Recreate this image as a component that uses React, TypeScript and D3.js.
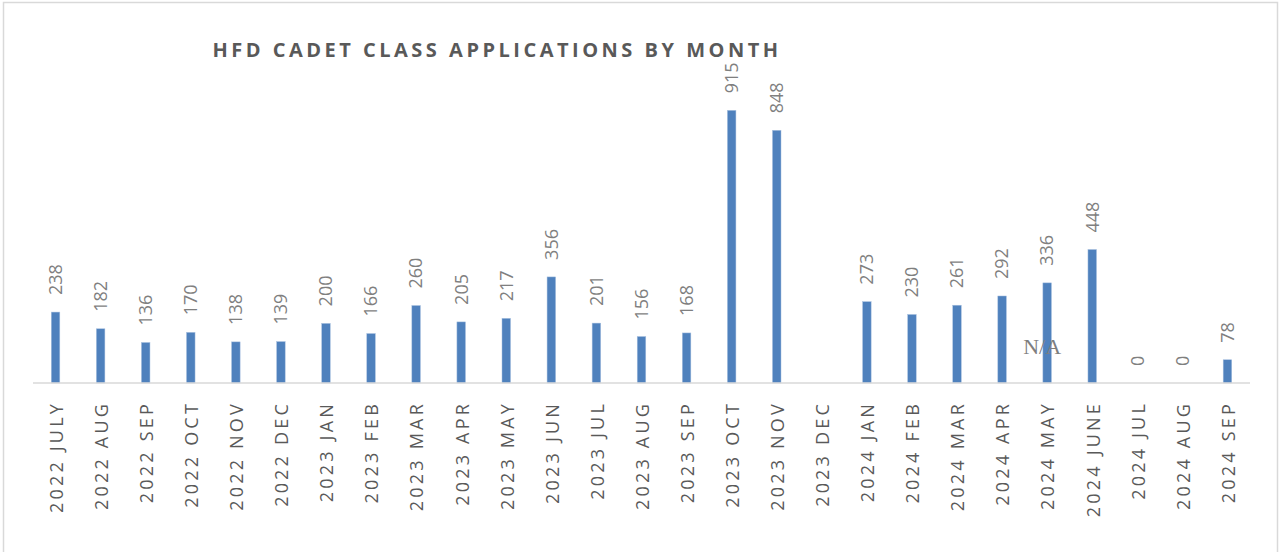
import * as d3 from "d3";

const WIDTH = 1281;
const HEIGHT = 552;
const PLOT = { left: 33, right: 1250, top: 85, bottom: 383 };

const months = [
  "2022 JULY", "2022 AUG", "2022 SEP", "2022 OCT", "2022 NOV", "2022 DEC",
  "2023 JAN", "2023 FEB", "2023 MAR", "2023 APR", "2023 MAY", "2023 JUN",
  "2023 JUL", "2023 AUG", "2023 SEP", "2023 OCT", "2023 NOV", "2023 DEC",
  "2024 JAN", "2024 FEB", "2024 MAR", "2024 APR", "2024 MAY", "2024 JUNE",
  "2024 JUL", "2024 AUG", "2024 SEP",
];

// 2023 DEC has no value in the source
const applications: (number | null)[] = [
  238, 182, 136, 170, 138, 139,
  200, 166, 260, 205, 217, 356,
  201, 156, 168, 915, 848, null,
  273, 230, 261, 292, 336, 448,
  0, 0, 78,
];

const notes = [{ month: "2024 MAY", text: "N/A" }];

const TITLE = "HFD CADET CLASS APPLICATIONS BY MONTH";
const FONT = "'Open Sans', 'Liberation Sans', sans-serif";

export default function App() {
  const x = d3
    .scaleBand<string>()
    .domain(months)
    .range([PLOT.left, PLOT.right])
    .paddingInner(0.81)
    .paddingOuter(0.405);

  const y = d3.scaleLinear().domain([0, 1000]).range([PLOT.bottom, PLOT.top]);

  const cx = (m: string) => (x(m) ?? 0) + x.bandwidth() / 2;

  const rows = months.map((m, i) => ({ month: m, value: applications[i] }));

  return (
    <svg
      width={WIDTH}
      height={HEIGHT}
      style={{ position: "absolute", left: 0, top: 0, display: "block", background: "#fff" }}
    >
      <rect x={3.5} y={2.5} width={1274} height={600} fill="#fff" stroke="#d9d9d9" strokeWidth={1.5} />

      <text
        x={497}
        y={57}
        textAnchor="middle"
        fontFamily={FONT}
        fontWeight={700}
        fontSize={20}
        letterSpacing={3.5}
        fill="#595959"
      >
        {TITLE}
      </text>

      {rows
        .filter((d) => d.value !== null)
        .map((d) => (
          <rect
            key={d.month}
            x={x(d.month)}
            y={y(d.value as number)}
            width={x.bandwidth()}
            height={y(0) - y(d.value as number)}
            fill="#4f81bd"
            stroke="#a9c1e0"
            strokeWidth={0.5}
          />
        ))}

      <line
        x1={PLOT.left}
        x2={PLOT.right}
        y1={y(0)}
        y2={y(0)}
        stroke="#d9d9d9"
        strokeWidth={1.5}
      />

      {rows
        .filter((d) => d.value !== null)
        .map((d) => (
          <text
            key={`v-${d.month}`}
            transform={`translate(${cx(d.month)},${y(d.value as number) - 17}) rotate(-90)`}
            dy="0.35em"
            fontFamily={FONT}
            fontSize={18}
            fill="#7f7f7f"
          >
            {d.value}
          </text>
        ))}

      {months.map((m) => (
        <text
          key={`c-${m}`}
          transform={`translate(${cx(m) + 1},${PLOT.bottom + 18}) rotate(-90)`}
          dy="0.35em"
          textAnchor="end"
          fontFamily={FONT}
          fontSize={18}
          letterSpacing={3.2}
          fill="#595959"
        >
          {m}
        </text>
      ))}

      {notes.map((n) => (
        <text
          key={`n-${n.month}`}
          x={cx(n.month) - 5}
          y={354}
          textAnchor="middle"
          fontFamily="'Liberation Serif', 'DejaVu Serif', serif"
          fontSize={22}
          fill="#7f7f7f"
        >
          {n.text}
        </text>
      ))}
    </svg>
  );
}
